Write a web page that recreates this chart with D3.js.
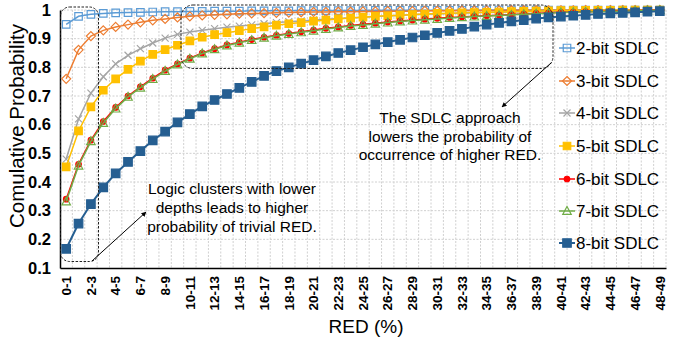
<!DOCTYPE html>
<html>
<head>
<meta charset="utf-8">
<script src="https://cdn.jsdelivr.net/npm/d3@7"></script>
<style>
body { margin: 0; background: #fff; }
text { font-family: "Liberation Sans", Arial, sans-serif; }
</style>
</head>
<body>
<div class="chart"></div>
<script>
// categories (RED %)
const cats = ["0-1","1-2","2-3","3-4","4-5","5-6","6-7","7-8","8-9","9-10",
	"10-11","11-12","12-13","13-14","14-15","15-16","16-17","17-18","18-19","19-20",
	"20-21","21-22","22-23","23-24","24-25","25-26","26-27","27-28","28-29","29-30",
	"30-31","31-32","32-33","33-34","34-35","35-36","36-37","37-38","38-39","39-40",
	"40-41","41-42","42-43","43-44","44-45","45-46","46-47","47-48","48-49"];

const yTicks = [0.1,0.2,0.3,0.4,0.5,0.6,0.7,0.8,0.9,1];

const sdlc2 = [0.950,0.978,0.985,0.988,0.990,0.991,0.992,0.993,0.994,0.994,
	0.995,0.995,0.996,0.996,0.996,0.997,0.997,0.997,0.997,0.998,
	0.998,0.998,0.998,0.998,0.998,0.999,0.999,0.999,0.999,0.999,
	0.999,0.999,0.999,0.999,1.000,1.000,1.000,1.000,1.000,1.000,
	1.000,1.000,1.000,1.000,1.000,1.000,1.000,1.000,1.000];
const sdlc3 = [0.760,0.861,0.909,0.929,0.941,0.949,0.957,0.964,0.969,0.974,
	0.978,0.981,0.983,0.985,0.987,0.988,0.989,0.990,0.991,0.992,
	0.993,0.993,0.994,0.994,0.995,0.995,0.996,0.996,0.996,0.997,
	0.997,0.997,0.998,0.998,0.998,0.998,0.999,0.999,0.999,0.999,
	0.999,0.999,1.000,1.000,1.000,1.000,1.000,1.000,1.000];
const sdlc4 = [0.480,0.620,0.710,0.767,0.812,0.842,0.865,0.885,0.902,0.915,
	0.923,0.929,0.935,0.940,0.944,0.948,0.952,0.956,0.959,0.962,
	0.965,0.968,0.970,0.973,0.975,0.977,0.979,0.981,0.983,0.985,
	0.986,0.988,0.989,0.990,0.991,0.992,0.993,0.994,0.995,0.996,
	0.997,0.997,0.998,0.998,0.999,0.999,1.000,1.000,1.000];
const sdlc5 = [0.453,0.578,0.662,0.720,0.760,0.793,0.822,0.845,0.862,0.877,
	0.892,0.905,0.914,0.921,0.928,0.935,0.941,0.947,0.952,0.956,
	0.961,0.965,0.969,0.972,0.975,0.978,0.980,0.982,0.984,0.986,
	0.988,0.989,0.990,0.991,0.992,0.993,0.994,0.995,0.996,0.997,
	0.998,0.998,0.999,0.999,0.999,1.000,1.000,1.000,1.000];
const sdlc6 = [0.340,0.462,0.546,0.611,0.660,0.700,0.732,0.762,0.790,0.812,
	0.832,0.850,0.865,0.878,0.888,0.897,0.905,0.912,0.918,0.924,
	0.930,0.936,0.941,0.946,0.950,0.954,0.958,0.962,0.965,0.968,
	0.971,0.974,0.976,0.978,0.980,0.982,0.984,0.986,0.988,0.990,
	0.992,0.993,0.994,0.995,0.996,0.997,0.998,0.999,1.000];
const sdlc7 = [0.332,0.457,0.542,0.606,0.656,0.697,0.729,0.759,0.787,0.810,
	0.830,0.848,0.863,0.876,0.886,0.895,0.903,0.910,0.916,0.922,
	0.928,0.934,0.939,0.944,0.948,0.952,0.956,0.960,0.963,0.966,
	0.969,0.972,0.975,0.977,0.979,0.981,0.983,0.985,0.987,0.989,
	0.991,0.992,0.993,0.994,0.995,0.996,0.997,0.998,0.999];
const sdlc8 = [0.167,0.255,0.323,0.381,0.430,0.470,0.508,0.545,0.576,0.608,
	0.637,0.664,0.686,0.707,0.728,0.749,0.770,0.787,0.800,0.813,
	0.825,0.838,0.850,0.860,0.870,0.880,0.888,0.896,0.904,0.912,
	0.920,0.927,0.934,0.942,0.949,0.955,0.960,0.965,0.970,0.974,
	0.977,0.980,0.983,0.986,0.988,0.990,0.992,0.994,0.996];

const seriesNames = ["2-bit SDLC","3-bit SDLC","4-bit SDLC","5-bit SDLC","6-bit SDLC","7-bit SDLC","8-bit SDLC"];
const seriesValues = [sdlc2, sdlc3, sdlc4, sdlc5, sdlc6, sdlc7, sdlc8];

// look of each series
const styles = [
	{color:"#5B9BD5", shape:"square", size:7.5, fill:"none", lw:1.5},
	{color:"#ED7D31", shape:"diamond", size:9, fill:"none", lw:1.5},
	{color:"#A5A5A5", shape:"x", size:7, fill:"none", lw:1.5},
	{color:"#FFC000", shape:"square", size:7.5, fill:"#FFC000", lw:1.5},
	{color:"#FF0000", shape:"circle", size:5.5, fill:"#FF0000", lw:1.5},
	{color:"#70AD47", shape:"triangle", size:8.5, fill:"none", lw:1.5},
	{color:"#255E91", shape:"square", size:8.5, fill:"#255E91", lw:2}
];

const outWidth = 674, outHeight = 341;
const pLeft = 60, pRight = 666, pTop = 10, pBottom = 268;

const svg = d3.select('.chart').append('svg')
	.attr("width", outWidth)
	.attr("height", outHeight);

const x = d3.scaleBand().domain(cats).range([pLeft, pRight]);
const y = d3.scaleLinear().domain([0.1, 1]).range([pBottom, pTop]);
const cx = d => x(d) + x.bandwidth()/2;

// grid
const grid = svg.append("g");
grid.selectAll(".vg")
	.data(cats.slice(1))
	.enter().append("line")
	.attr("x1", d=>x(d)).attr("x2", d=>x(d))
	.attr("y1", pTop).attr("y2", pBottom)
	.attr("stroke", "#d0d0d0").attr("stroke-dasharray", "2,1.5");
grid.append("line")
	.attr("x1", pRight).attr("x2", pRight).attr("y1", pTop).attr("y2", pBottom)
	.attr("stroke", "#d0d0d0").attr("stroke-dasharray", "2,1.5");
grid.selectAll(".hg")
	.data(yTicks.slice(1))
	.enter().append("line")
	.attr("x1", pLeft).attr("x2", pRight)
	.attr("y1", d=>y(d)).attr("y2", d=>y(d))
	.attr("stroke", "#d0d0d0").attr("stroke-dasharray", "2,1.5");

// axes
const yAxis = d3.axisLeft(y).tickValues(yTicks).tickSize(0).tickPadding(9)
	.tickFormat(d => d === 1 ? "1" : d3.format(".1f")(d));
svg.append("g")
	.attr("transform", `translate(${pLeft},0)`)
	.call(yAxis)
	.call(g => g.select(".domain").attr("stroke", "#000").attr("stroke-width", 1.5))
	.selectAll("text")
	.attr("font-size", 16.5).attr("font-weight", "bold").attr("fill", "#000")
	.style("font-family", "Liberation Sans, Arial, sans-serif");

const xAxis = d3.axisBottom(x).tickSize(0).tickValues(cats.filter((d,i)=>i%2===0));
svg.append("g")
	.attr("transform", `translate(0,${pBottom})`)
	.call(xAxis)
	.call(g => g.select(".domain").attr("stroke", "#000").attr("stroke-width", 1.5))
	.selectAll("text")
	.attr("font-size", 13.5).attr("font-weight", "bold").attr("fill", "#000")
	.style("font-family", "Liberation Sans, Arial, sans-serif")
	.attr("text-anchor", "end")
	.attr("transform", "rotate(-90)")
	.attr("x", -8).attr("y", 0).attr("dy", "0.35em");

// marker shapes
function shapePath(shape, s) {
	const h = s/2;
	if (shape === "square") return `M${-h},${-h}H${h}V${h}H${-h}Z`;
	if (shape === "diamond") return `M0,${-h}L${h},0L0,${h}L${-h},0Z`;
	if (shape === "x") return `M${-h},${-h}L${h},${h}M${-h},${h}L${h},${-h}`;
	if (shape === "triangle") return `M0,${-h*1.05}L${h},${h*0.8}L${-h},${h*0.8}Z`;
	return d3.arc()({innerRadius:0, outerRadius:h, startAngle:0, endAngle:2*Math.PI});
}

const line = d3.line().x((d,i)=>cx(cats[i])).y(d=>y(d));

seriesValues.forEach((vals, k) => {
	const st = styles[k];
	const gs = svg.append("g");
	gs.append("path")
		.attr("d", line(vals))
		.attr("fill", "none")
		.attr("stroke", st.color)
		.attr("stroke-width", st.lw);
	gs.selectAll("path.m")
		.data(vals)
		.enter().append("path")
		.attr("class", "m")
		.attr("transform", (d,i)=>`translate(${cx(cats[i])},${y(d)})`)
		.attr("d", shapePath(st.shape, st.size))
		.attr("fill", st.fill)
		.attr("stroke", st.color)
		.attr("stroke-width", 1.2);
});

// legend
const legend = svg.append("g");
const ly = [48, 81, 113, 146, 179, 211, 243];
seriesNames.forEach((name, k) => {
	const st = styles[k];
	const lg = legend.append("g").attr("transform", `translate(567,${ly[k]})`);
	lg.append("line").attr("x1", -8).attr("x2", 8)
		.attr("stroke", st.color).attr("stroke-width", st.lw);
	lg.append("path").attr("d", shapePath(st.shape, st.size))
		.attr("fill", st.fill).attr("stroke", st.color).attr("stroke-width", 1.2);
	lg.append("text").attr("x", 9).attr("dy", "0.36em")
		.attr("font-size", 17).text(name);
});

// callouts
svg.append("defs").append("marker")
	.attr("id", "arr").attr("viewBox", "0 0 10 10")
	.attr("refX", 9).attr("refY", 5)
	.attr("markerWidth", 5).attr("markerHeight", 5)
	.attr("orient", "auto")
	.append("path").attr("d", "M0,0L10,5L0,10Z").attr("fill", "#000");

svg.append("rect")
	.attr("x", 60.5).attr("y", 7).attr("width", 38).attr("height", 254.5)
	.attr("rx", 9).attr("fill", "none")
	.attr("stroke", "#222").attr("stroke-width", 1).attr("stroke-dasharray", "2.5,1.5");
svg.append("line")
	.attr("x1", 92).attr("y1", 261).attr("x2", 146).attr("y2", 212)
	.attr("stroke", "#000").attr("stroke-width", 1)
	.attr("marker-end", "url(#arr)");

svg.append("rect")
	.attr("x", 181).attr("y", 5).attr("width", 372).attr("height", 63.5)
	.attr("rx", 12).attr("fill", "none")
	.attr("stroke", "#222").attr("stroke-width", 1).attr("stroke-dasharray", "2.5,1.5");
svg.append("line")
	.attr("x1", 551).attr("y1", 63).attr("x2", 502).attr("y2", 107)
	.attr("stroke", "#000").attr("stroke-width", 1)
	.attr("marker-end", "url(#arr)");

// annotation texts
const note1 = ["Logic clusters with lower", "depths leads to higher", "probability of trivial RED."];
const note2 = ["The SDLC approach", "lowers the probability of", "occurrence of higher RED."];
svg.append("text").attr("text-anchor", "middle").attr("font-size", 15.5)
	.selectAll("tspan").data(note1).enter().append("tspan")
	.attr("x", 232).attr("y", (d,i)=>194 + i*19).text(d=>d);
svg.append("text").attr("text-anchor", "middle").attr("font-size", 15.5)
	.selectAll("tspan").data(note2).enter().append("tspan")
	.attr("x", 450).attr("y", (d,i)=>123 + i*18.5).text(d=>d);

// axis titles
svg.append("text")
	.attr("transform", "translate(24,126) rotate(-90)")
	.attr("text-anchor", "middle")
	.attr("font-size", 20.5)
	.text("Comulative Probability");
svg.append("text")
	.attr("x", 366).attr("y", 333)
	.attr("text-anchor", "middle")
	.attr("font-size", 19)
	.text("RED (%)");
</script>
</body>
</html>
